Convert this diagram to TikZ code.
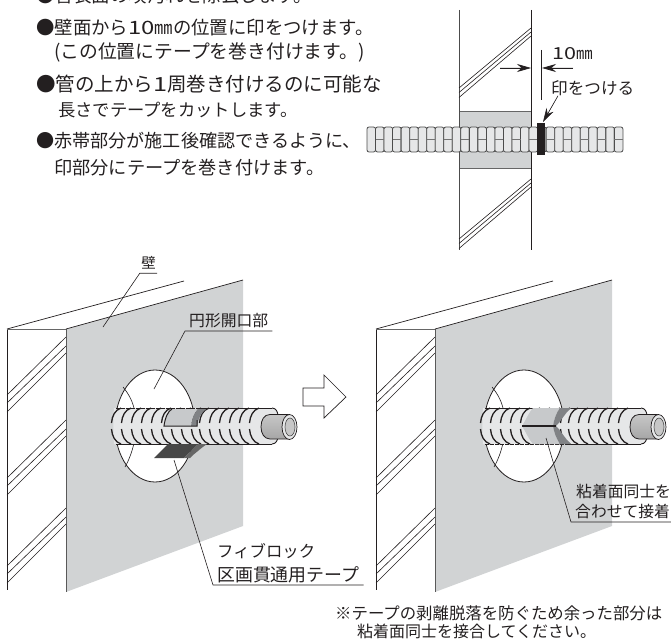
\documentclass[tikz,border=0pt]{standalone}
\usepackage{fontspec}
\setmainfont{Noto Sans CJK JP}
\usetikzlibrary{arrows.meta}
\definecolor{wallgray}{HTML}{D1D3D4}
\definecolor{pipegray}{HTML}{E6E7E8}
\definecolor{tapegray}{HTML}{C7C9CB}
\definecolor{bandgray}{HTML}{808285}
\definecolor{inkblack}{HTML}{231F20}
\newcommand{\wide}[1]{\scalebox{1.3}[1]{#1}}
\tikzset{
  fs/.style={font=\fontsize{#1}{18}\selectfont},
  txt/.style={anchor=west, inner sep=0, text=inkblack, fs=18.1},
  lbl/.style={txt, fs=15.8},
  tag/.style={lbl, anchor=south west, inner ysep=0, inner xsep=4, minimum height=20},
  leader/.style={line width=0.6, draw=inkblack},
  hatch/.style={line width=0.6, draw=inkblack},
  rib/.style={line width=1.3, draw=inkblack},
  edge/.style={line width=0.9, draw=inkblack},
  seg/.style={draw=black!70, fill=pipegray, rounded corners=2, line width=0.8},
  dimtip/.style={-{Stealth[length=14,width=8]}, line width=0.7, draw=inkblack, fill=inkblack}
}
\begin{document}
\begin{tikzpicture}[x=1pt,y=-1pt]
\useasboundingbox (0,0) rectangle (671,644);
\clip (0,0) rectangle (671,644);
% instructions
\node[txt, fs=18.5] (L0) at (36,-4) {●管表面の埃汚れを除去します。};
\node[txt, fs=18.4] (L1) at (36,28) {●壁面から\wide{10}㎜の位置に印をつけます。};
\node[txt, fs=18.8] (L2) at (54,52) {(この位置にテープを巻き付けます。)};
\node[txt, fs=19.5] (L3) at (36,84) {●管の上から\wide{1}周巻き付けるのに可能な};
\node[txt, fs=17.3] (L4) at (58,110) {長さでテープをカットします。};
\node[txt] (L5) at (36,141) {●赤帯部分が施工後確認できるように、};
\node[txt, fs=18.2] (L6) at (54,168) {印部分にテープを巻き付けます。};
% section through the wall
\fill[wallgray] (459,111) rectangle (531,168);
\draw[line width=0.6, black!60] (459,111) -- (531,111);
\draw[line width=0.6, black!60] (459,168) -- (531,168);
\draw[line width=0.8, black!70] (459,10) -- (459,250);
\draw[line width=0.8, draw=inkblack] (531,10) -- (531,250);
\foreach \dy/\ey in {0/0,4.5/4,9.5/8} {
  \draw[hatch] (459,88+\dy) -- (531,28+\ey);
  \draw[hatch] (459,239+\dy) -- (531,179+\ey);
}
\foreach \i in {0,...,29} {
  \draw[seg] (367+8.53*\i,127) rectangle ++(8.53,25);
}
\foreach \i in {0,2,...,28} {
  \draw[line width=0.7, black!55] (375.5+8.53*\i,139.5) -- ++(8.53,0);
}
\fill[inkblack] (537,123.5) rectangle (545,155.5);
\draw[line width=0.8, draw=inkblack] (541.5,50) -- (541.5,100);
\coordinate (dimA) at (500,68);
\coordinate (dimB) at (531,68);
\coordinate (dimC) at (573,68);
\coordinate (dimD) at (542,68);
\draw[dimtip] (dimA) -- (dimB);
\draw[dimtip] (dimC) -- (dimD);
\node[txt, fs=16.6] (ten) at (552,54) {\wide{10}㎜};
\node[txt, fs=16.6] (mark) at (551,88) {印をつける};
\coordinate (markTip) at (543,122);
\draw[dimtip, line width=0.6] (mark.south west) ++(7,0) -- (markTip);
% the two views
\foreach \dx/\dsh/\sol in {0/408/444,369/444/408} {
\begin{scope}[xshift=\dx]
  \draw[line width=0.7, draw=inkblack] (7,329) -- (184,281);
  \draw[line width=0.8, draw=inkblack] (7,329) -- (7,590);
  \draw[line width=0.8, black!60] (7,329) -- (66,329);
  \foreach \hy in {0,83,171} {
    \draw[hatch] (7,395+\hy) -- (66,337+\hy);
    \draw[hatch] (7,403+\hy) -- (66,346+\hy);
    \draw[hatch] (7,412+\hy) -- (66,353+\hy);
  }
  \fill[wallgray] (66,329) -- (243,280) -- (243,526) -- (66,592) -- cycle;
  \draw[line width=0.9, black!65] (66,329) -- (66,592);
  \draw[line width=0.7, draw=inkblack] (66,329) -- (243,280);
  \draw[fill=white, line width=0.8, draw=inkblack] (155,426) ellipse [x radius=40, y radius=56];
  \draw[leader] (123,387) .. controls (128,393) and (132,400) .. (134,408);
  \draw[leader] (134,443) .. controls (132,452) and (129,460) .. (125,467);
  % corrugated cover
  \fill[pipegray] (114,408) -- (272,408) .. controls (276,408) and (278,412) .. (278,416)
    -- (278,436) .. controls (278,440) and (276,444) .. (272,444) -- (114,444) .. controls (113,432) and (113,420) .. (114,408) -- cycle;
  \draw[edge, dash pattern=on 4 off 1] (116,\dsh) -- (196,\dsh);
  \draw[edge] (196,\dsh) -- (272,\dsh);
  \draw[edge] (116,\sol) -- (272,\sol);
  \draw[edge] (272,408) .. controls (276,408) and (278,412) .. (278,416);
  \draw[edge] (272,444) .. controls (276,444) and (278,440) .. (278,436);
  \foreach \rx in {121,131,141,151,161,171,181,191,201,209,219,229,239,249,259} {
    \draw[rib] (\rx,408) .. controls (\rx-6,410) and (\rx-9,416) .. (\rx-9.5,423);
    \draw[rib] (\rx-9.5,429) .. controls (\rx-9,436) and (\rx-6,442) .. (\rx,444);
  }
  % inner tube
  \draw[line width=0.8, draw=inkblack, top color=black!22, middle color=white, bottom color=black!35]
    (270,414.5) -- (289,414.5) -- (289,439) -- (270,439) .. controls (264,439) and (261,433) .. (261,427)
    .. controls (261,420) and (264,414.5) .. (270,414.5) -- cycle;
  \draw[line width=0.7, draw=inkblack, fill=pipegray] (289.5,427) ellipse [x radius=7.5, y radius=12.5];
  \draw[line width=0.6, black!70, fill=black!22] (290,427) ellipse [x radius=5, y radius=9];
\end{scope}
}
% tape, left view
\fill[tapegray] (164,426) .. controls (165,418) and (168,411) .. (172,409) -- (198,409) .. controls (194,413) and (192,419) .. (191,426) -- cycle;
\fill[bandgray] (198,409) -- (206,409) .. controls (201,413) and (198,419) .. (197,426) -- (191,426) .. controls (192,419) and (194,413) .. (198,409) -- cycle;
\draw[line width=1, draw=inkblack] (172,409) .. controls (168,411) and (165,418) .. (164,426) -- (197,426) -- (197,420);
\fill[black!72] (154,458) -- (168,444) -- (198,444) -- (184,458) -- cycle;
\fill[black!60] (184,458) -- (198,444) -- (207,444) .. controls (201,448) and (197,452) .. (193,455) -- (190,458) -- cycle;
% tape, right view
\fill[tapegray] (522,426) .. controls (526,420) and (529,412) .. (533,408) -- (560,408) .. controls (556,413) and (554,420) .. (553,426) .. controls (554,432) and (556,438) .. (560,444) -- (533,444) .. controls (529,440) and (526,432) .. (522,426) -- cycle;
\fill[bandgray] (560,408) -- (571,408) .. controls (565,413) and (562,420) .. (556,426) .. controls (562,432) and (565,439) .. (571,444) -- (560,444) .. controls (556,438) and (554,432) .. (553,426) .. controls (554,420) and (556,413) .. (560,408) -- cycle;
\draw[line width=1.1, draw=inkblack] (522,426) -- (556,426);
% open arrow
\draw[line width=0.7, draw=inkblack, fill=white] (303,388) -- (324,388) -- (324,375) -- (346,397) -- (324,418) -- (324,406) -- (303,406) -- cycle;
% labels
\node[lbl, minimum width=17, minimum height=20, inner sep=0, anchor=center, fs=14.5] (wall) at (148.5,263) {壁};
\coordinate (wallA) at (103,327);
\draw[leader] (wallA) -- (wall.south west) -- (wall.south east);
\node[tag] (hole) at (185,331) {円形開口部\hspace{8pt}};
\coordinate (holeA) at (154,389);
\draw[leader] (holeA) -- (hole.south west) -- (hole.south east);
\node[txt, fs=16.4] (tape1) at (217,551) {フィブロック};
\node[tag, fs=17.9] (tape2) at (213,585) {区画貫通用テープ};
\coordinate (tapeA) at (174,460);
\draw[leader] (tapeA) -- (tape2.south west) -- (tape2.south east);
\node[lbl] (glue1) at (576,491) {粘着面同士を};
\node[tag] (glue2) at (571,522) {合わせて接着};
\coordinate (glueA) at (546,438);
\draw[leader] (glueA) -- (glue2.south west) -- (glue2.south east);
% note
\node[txt, fs=16.4] (note1) at (335,613) {※テープの剥離脱落を防ぐため余った部分は};
\node[txt, fs=16] (note2) at (357,631) {粘着面同士を接合してください。};
\end{tikzpicture}
\end{document}
